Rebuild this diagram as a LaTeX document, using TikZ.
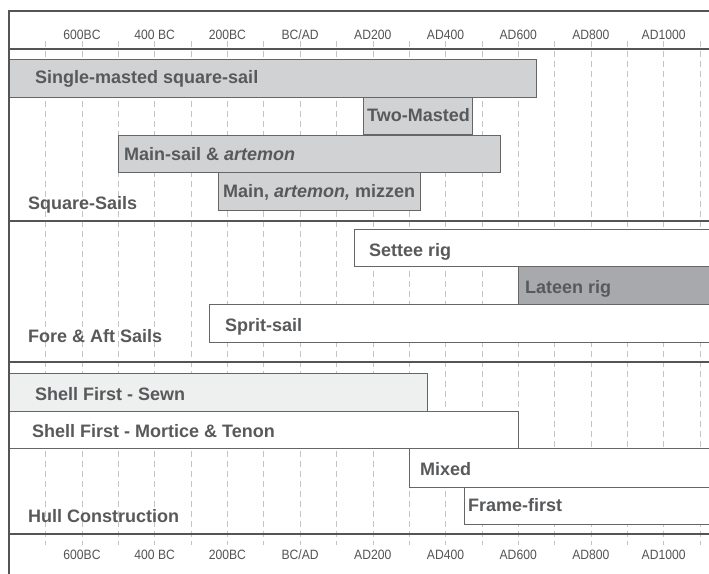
\documentclass[tikz,border=0pt]{standalone}
\usepackage{fontspec}
\setmainfont{Liberation Sans}
\definecolor{framec}{HTML}{555555}
\definecolor{edgec}{HTML}{666666}
\definecolor{gridc}{HTML}{C4C4C4}
\definecolor{txtc}{HTML}{58595B}
\definecolor{axc}{HTML}{555555}
\definecolor{fillA}{HTML}{D1D2D4}
\definecolor{fillB}{HTML}{A7A9AC}
\definecolor{fillC}{HTML}{EEF0EF}
\newcommand{\axtext}[1]{\scalebox{0.9}[1]{#1}}
\tikzset{
  barbox/.style={draw=edgec, line width=1pt, anchor=north west, inner sep=0pt},
  bartext/.style={anchor=base west, inner sep=0pt, text=txtc, font=\fontsize{18}{20}\selectfont\bfseries},
  axlab/.style={anchor=base, inner sep=0pt, text=axc, font=\fontsize{13.5}{15}\selectfont},
  gridline/.style={draw=gridc, line width=0.7pt, dash pattern=on 6pt off 4pt},
  frameline/.style={draw=framec, line width=1.3pt},
}
\begin{document}
\begin{tikzpicture}[x=1pt,y=-1pt]
\useasboundingbox[fill=white] (0,0) rectangle (709,573);
\clip (0,0) rectangle (709,573);
% grid
\foreach \k in {0,...,18}{
  \coordinate (gt\k) at ({45.7+36.35*\k},41);
  \coordinate (gb\k) at ({45.7+36.35*\k},545);
  \draw[gridline] (gt\k) -- (gb\k);
}
% frame
\coordinate (fTL) at (9,11);
\coordinate (fTR) at (712,11);
\coordinate (fBL) at (9,575);
\coordinate (h1L) at (9,49);   \coordinate (h1R) at (712,49);
\coordinate (h2L) at (9,221);  \coordinate (h2R) at (712,221);
\coordinate (h3L) at (9,362);  \coordinate (h3R) at (712,362);
\coordinate (h4L) at (9,534);  \coordinate (h4R) at (712,534);
% bars
\node[barbox, fill=fillA, minimum width=527pt, minimum height=38pt] (single) at (9,59) {};
\node[barbox, fill=fillA, minimum width=109pt, minimum height=37pt] (two) at (363,97) {};
\node[barbox, fill=fillA, minimum width=382pt, minimum height=37pt] (mainart) at (118,135) {};
\node[barbox, fill=fillA, minimum width=202pt, minimum height=38pt] (mizzen) at (218,172) {};
\node[barbox, fill=white, minimum width=376pt, minimum height=37pt] (settee) at (354,229) {};
\node[barbox, fill=fillB, minimum width=212pt, minimum height=38pt] (lateen) at (518,266) {};
\node[barbox, fill=white, minimum width=521pt, minimum height=38pt] (sprit) at (209,304) {};
\node[barbox, fill=fillC, minimum width=418pt, minimum height=38pt] (sewn) at (9,373) {};
\node[barbox, fill=white, minimum width=509pt, minimum height=37pt] (mortice) at (9,411) {};
\node[barbox, fill=white, minimum width=321pt, minimum height=39pt] (mixed) at (409,448) {};
\node[barbox, fill=white, minimum width=266pt, minimum height=37pt] (framefirst) at (464,487) {};
% frame lines
\draw[frameline] (fTR) -- (fTL) -- (fBL);
\draw[frameline] (h1L) -- (h1R);
\draw[frameline] (h2L) -- (h2R);
\draw[frameline] (h3L) -- (h3R);
\draw[frameline] (h4L) -- (h4R);
% bar texts
\node[bartext] (tsingle) at (35,83) {Single-masted square-sail};
\node[bartext] (ttwo) at (367,121) {Two-Masted};
\node[bartext] (tmainart) at (124,160) {Main-sail \& \textit{artemon}};
\node[bartext] (tmizzen) at (223,197) {Main, \textit{artemon,} mizzen};
\node[bartext] (tsettee) at (369,256) {Settee rig};
\node[bartext] (tlateen) at (525,293) {Lateen rig};
\node[bartext] (tsprit) at (225,331) {Sprit-sail};
\node[bartext] (tsewn) at (35,400) {Shell First - Sewn};
\node[bartext] (tmortice) at (32,437) {Shell First - Mortice \& Tenon};
\node[bartext] (tmixed) at (420,475) {Mixed};
\node[bartext] (tframe) at (468,511) {Frame-first};
% section labels
\node[bartext] (lsquare) at (28,209) {Square-Sails};
\node[bartext] (lfore) at (28,342) {Fore \& Aft Sails};
\node[bartext] (lhull) at (28,522) {Hull Construction};
% axis labels
\foreach \lab [count=\i from 0] in {600BC,400 BC,200BC,BC/AD,AD200,AD400,AD600,AD800,AD1000}{
  \node[axlab] (at\i) at ({82+72.7*\i},39) {\axtext{\lab}};
  \node[axlab] (ab\i) at ({82+72.7*\i},559) {\axtext{\lab}};
}
\end{tikzpicture}
\end{document}
